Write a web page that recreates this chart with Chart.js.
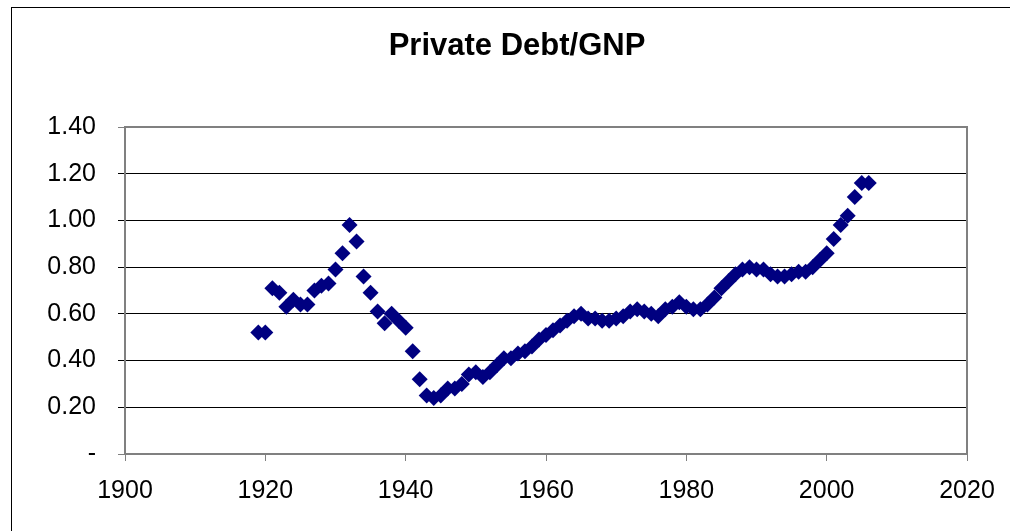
<!DOCTYPE html>
<html>
<head>
<meta charset="utf-8">
<script src="https://cdn.jsdelivr.net/npm/chart.js@4/dist/chart.umd.min.js"></script>
<style>
  html, body { margin: 0; padding: 0; background: #fff; }
  #wrap { width: 1010px; height: 531px; }
</style>
</head>
<body>
<div id="wrap"><canvas id="miGrafica" width="1010" height="531"></canvas></div>
<script>
// Datos
const years = [
  1919, 1920, 1921, 1922, 1923, 1924, 1925, 1926, 1927, 1928,
  1929, 1930, 1931, 1932, 1933, 1934, 1935, 1936, 1937, 1938,
  1939, 1940, 1941, 1942, 1943, 1944, 1945, 1946, 1947, 1948,
  1949, 1950, 1951, 1952, 1953, 1954, 1955, 1956, 1957, 1958,
  1959, 1960, 1961, 1962, 1963, 1964, 1965, 1966, 1967, 1968,
  1969, 1970, 1971, 1972, 1973, 1974, 1975, 1976, 1977, 1978,
  1979, 1980, 1981, 1982, 1983, 1984, 1985, 1986, 1987, 1988,
  1989, 1990, 1991, 1992, 1993, 1994, 1995, 1996, 1997, 1998,
  1999, 2000, 2001, 2002, 2003, 2004, 2005, 2006
];
const debtToGnp = [
  0.52, 0.52, 0.71, 0.69, 0.63, 0.66, 0.64, 0.64, 0.70, 0.72,
  0.73, 0.79, 0.86, 0.98, 0.91, 0.76, 0.69, 0.61, 0.56, 0.60,
  0.57, 0.54, 0.44, 0.32, 0.25, 0.24, 0.25, 0.28, 0.28, 0.30,
  0.34, 0.35, 0.33, 0.35, 0.38, 0.41, 0.41, 0.43, 0.44, 0.46,
  0.49, 0.51, 0.53, 0.55, 0.57, 0.59, 0.60, 0.58, 0.58, 0.57,
  0.57, 0.58, 0.59, 0.61, 0.62, 0.61, 0.60, 0.59, 0.62, 0.63,
  0.65, 0.63, 0.62, 0.62, 0.64, 0.67, 0.71, 0.74, 0.77, 0.79,
  0.80, 0.79, 0.79, 0.77, 0.76, 0.76, 0.77, 0.78, 0.78, 0.80,
  0.83, 0.86, 0.92, 0.98, 1.02, 1.10, 1.16, 1.16
];
const titleText = "Private Debt/GNP";
const yTickLabels = { 0: "-", 0.2: "0.20", 0.4: "0.40", 0.6: "0.60", 0.8: "0.80", 1: "1.00", 1.2: "1.20", 1.4: "1.40" };

const FONT = "'Liberation Sans', Arial, sans-serif";

// Marco exterior, borde del área del gráfico y título
const excelFrame = {
  id: "excelFrame",
  beforeDraw(chart) {
    const c = chart.ctx;
    c.save();
    c.strokeStyle = "#000";
    c.lineWidth = 1;
    c.strokeRect(11.5, 7.5, 1100, 600);
    c.restore();
  },
  afterDraw(chart) {
    const c = chart.ctx;
    const a = chart.chartArea;
    c.save();
    c.strokeStyle = "#808080";
    c.lineWidth = 2;
    c.strokeRect(a.left, a.top, a.right - a.left, a.bottom - a.top);
    c.fillStyle = "#000";
    c.font = "bold 31px " + FONT;
    c.textAlign = "center";
    c.textBaseline = "middle";
    c.fillText(titleText, 517, 46);
    c.restore();
  }
};

const ctx = document.getElementById("miGrafica").getContext("2d");
const points = years.map((y, i) => ({ x: y, y: debtToGnp[i] }));

new Chart(ctx, {
  type: "scatter",
  data: {
    datasets: [{
      data: points,
      pointStyle: "rectRot",
      pointRadius: 8,
      pointHoverRadius: 8,
      backgroundColor: "#000080",
      borderColor: "#000080",
      borderWidth: 0
    }]
  },
  options: {
    responsive: false,
    animation: false,
    layout: { padding: { left: 0, top: 127, right: 43, bottom: 0 } },
    plugins: { legend: { display: false }, title: { display: false }, tooltip: { enabled: false } },
    scales: {
      x: {
        type: "linear",
        min: 1900,
        max: 2020,
        afterFit: s => { s.height = 77; },
        ticks: {
          stepSize: 20,
          color: "#000",
          padding: 15,
          font: { family: FONT, size: 25 },
          callback: v => String(v)
        },
        grid: { drawOnChartArea: false, tickLength: 7, color: "#808080" },
        border: { display: false }
      },
      y: {
        min: 0,
        max: 1.4,
        afterFit: s => { s.width = 125; },
        ticks: {
          stepSize: 0.2,
          color: "#000",
          padding: 22,
          font: { family: FONT, size: 25 },
          callback: v => yTickLabels[Math.round(v * 10) / 10]
        },
        grid: {
          tickLength: 7,
          color: c => (c.tick && (c.tick.value === 0 || Math.abs(c.tick.value - 1.4) < 1e-6)) ? "#808080" : "#000",
          lineWidth: 1
        },
        border: { display: false }
      }
    }
  },
  plugins: [excelFrame]
});
</script>
</body>
</html>
